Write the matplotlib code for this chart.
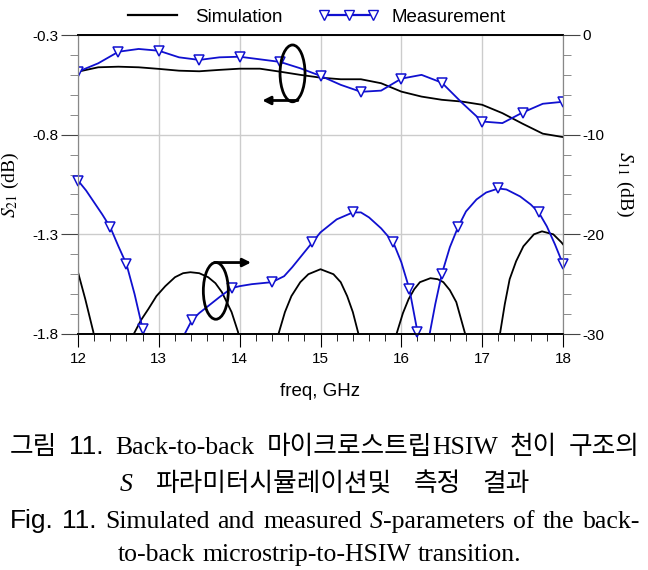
import matplotlib
matplotlib.use("Agg")
import matplotlib.pyplot as plt
import matplotlib.transforms as mtransforms
from matplotlib.patches import Ellipse
from matplotlib.lines import Line2D
import numpy as np

plt.rcParams['axes.unicode_minus'] = False
plt.rcParams['mathtext.fontset'] = 'stix'
plt.rcParams['font.family'] = ['Liberation Sans', 'DejaVu Sans']

# S21 (left axis, dB)
s21_f = [12.0, 12.25, 12.5, 12.75, 13.0, 13.25, 13.5, 13.75, 14.0, 14.25, 14.5, 14.75,
         15.0, 15.25, 15.5, 15.75, 16.0, 16.25, 16.5, 16.75, 17.0, 17.25, 17.5, 17.75, 18.0]
s21_sim = [-0.484, -0.462, -0.459, -0.462, -0.470, -0.479, -0.482, -0.475, -0.469, -0.469,
           -0.484, -0.500, -0.514, -0.522, -0.522, -0.542, -0.584, -0.609, -0.625, -0.634,
           -0.650, -0.692, -0.745, -0.795, -0.812]
s21_meas = [-0.484, -0.442, -0.384, -0.370, -0.379, -0.412, -0.425, -0.412, -0.409, -0.422,
            -0.435, -0.467, -0.505, -0.550, -0.585, -0.579, -0.519, -0.500, -0.539, -0.640,
            -0.734, -0.742, -0.689, -0.645, -0.635]

# S11 simulation (right axis, dB); values below -30 fall outside the plot
s11_sim_f = [12.0, 12.09, 12.19, 12.25, 12.65, 12.69, 12.78, 12.87, 12.97, 13.08, 13.2, 13.3,
             13.39, 13.5, 13.61, 13.7, 13.78, 13.9, 13.98, 14.05, 14.44, 14.48, 14.56, 14.64,
             14.75, 14.85, 15.0, 15.16, 15.25, 15.33, 15.4, 15.47, 15.52, 15.9, 15.94, 16.02,
             16.09, 16.16, 16.23, 16.36, 16.45, 16.52, 16.6, 16.68, 16.79, 16.85, 17.18, 17.22,
             17.28, 17.34, 17.42, 17.51, 17.64, 17.74, 17.88, 17.98, 18.0]
s11_sim = [-23.8, -26.5, -29.8, -34, -34, -30.0, -28.6, -27.5, -26.2, -25.2, -24.3, -23.9,
           -23.8, -23.9, -24.3, -24.9, -25.8, -27.8, -29.8, -34, -34, -30.0, -27.8, -26.2,
           -24.8, -24.0, -23.5, -24.0, -24.8, -26.2, -27.8, -30.0, -34, -34, -30.0, -27.9,
           -26.5, -25.5, -24.8, -24.4, -24.5, -24.8, -25.6, -26.8, -30.0, -34, -34, -30.0,
           -27.0, -24.5, -22.7, -21.2, -20.0, -19.7, -20.0, -20.8, -21.0]

# S11 measurement
s11_meas_f = [12.0, 12.1, 12.2, 12.3, 12.4, 12.5, 12.6, 12.7, 12.8, 12.9, 13.25, 13.3, 13.41,
              13.5, 13.61, 13.75, 13.9, 14.0, 14.15, 14.4, 14.55, 14.65, 14.75, 14.9, 15.0,
              15.2, 15.4, 15.5, 15.6, 15.75, 15.9, 16.0, 16.1, 16.2, 16.25, 16.33, 16.35,
              16.42, 16.5, 16.6, 16.7, 16.8, 16.93, 17.05, 17.2, 17.3, 17.47, 17.6, 17.7,
              17.8, 17.9, 18.0]
s11_meas = [-14.6, -15.6, -16.8, -18.0, -19.3, -21.2, -23.0, -26.0, -29.5, -34, -34, -30.3,
            -28.6, -27.9, -27.2, -26.3, -25.4, -25.2, -25.0, -24.8, -24.2, -23.3, -22.3, -20.8,
            -19.8, -18.5, -17.8, -17.8, -18.3, -19.4, -20.8, -22.8, -25.5, -29.8, -34, -34,
            -30.0, -27.0, -24.0, -21.3, -19.3, -17.7, -16.5, -15.8, -15.4, -15.5, -16.2, -17.0,
            -17.8, -19.2, -21.0, -23.0]
s11_mk_f = [12.0, 12.4, 12.6, 12.8, 13.41, 13.9, 14.4, 14.9, 15.4, 15.9, 16.1, 16.2, 16.5,
            16.7, 17.2, 17.7, 18.0]
s11_mk = [-14.6, -19.3, -23.0, -29.5, -28.6, -25.4, -24.8, -20.8, -17.8, -20.8, -25.5, -29.8,
          -24.0, -19.3, -15.4, -17.8, -23.0]

blue = '#1010d0'
W, H = 648, 570
fig = plt.figure(figsize=(W / 100, H / 100), dpi=100)
ax = fig.add_axes([78 / W, (H - 334) / H, (563 - 78) / W, (334 - 35) / H])
ax2 = ax.twinx()

ax.plot(s21_f, s21_sim, color='black', lw=1.3)
ax.plot(s21_f, s21_meas, color=blue, lw=1.3, marker='v', markevery=2, ms=7,
        mfc='white', mec=blue, mew=1.1)
ax2.plot(s11_sim_f, s11_sim, color='black', lw=1.3)
ax2.plot(s11_meas_f, s11_meas, color=blue, lw=1.3)
ax2.plot(s11_mk_f, s11_mk, ls='none', marker='v', ms=7, mfc='white', mec=blue, mew=1.1,
         clip_on=False)

ax.set_xlim(12, 18)
ax.set_ylim(-1.8, -0.3)
ax2.set_ylim(-30, 0)
ax.set_xticks(range(12, 19))
ax.set_xticks(np.arange(12, 18.01, 0.2), minor=True)
ax.set_yticks([-1.8, -1.3, -0.8, -0.3])
ax.set_yticks(np.arange(-1.8, -0.29, 0.1), minor=True)
ax2.set_yticks([-30, -20, -10, 0])
ax2.set_yticks(np.arange(-30, 0.1, 2), minor=True)

ax.grid(which='major', color='#cccccc', lw=1)
ax.set_axisbelow(True)

ax.tick_params(axis='x', which='major', length=9, color='black', labelsize=11, pad=4)
ax.tick_params(axis='x', which='minor', length=5, color='black')
ax.tick_params(axis='y', which='major', length=12, color='#444444', labelsize=11, pad=2)
ax.tick_params(axis='y', which='minor', length=6, color='#777777')
ax2.tick_params(axis='y', which='major', length=12, color='#444444', labelsize=11, pad=2)
ax2.tick_params(axis='y', which='minor', length=6, color='#777777')

for a in (ax, ax2):
    a.spines['top'].set_color('black')
    a.spines['bottom'].set_color('black')
    a.spines['top'].set_linewidth(1.2)
    a.spines['bottom'].set_linewidth(1.2)
    a.spines['left'].set_color('#888888')
    a.spines['right'].set_color('#888888')

ax.set_xlabel('freq, GHz', fontsize=13.5, labelpad=12)
ax.set_ylabel('$S_{21}$ (dB)', family='Liberation Serif', fontsize=14, labelpad=8)
ax2.set_ylabel('$S_{11}$ (dB)', family='Liberation Serif', fontsize=14, rotation=270,
               labelpad=22)

# ellipses with arrows pointing to the axis of each curve group
ax2.add_patch(Ellipse((14.654, -0.4925), 0.309, 0.285, fill=False, lw=2, ec='black',
                      transform=ax.transData, zorder=5))
ax2.annotate('', xy=(14.28, -0.6285), xytext=(14.72, -0.6285), xycoords=ax.transData,
             arrowprops=dict(arrowstyle='-|>', lw=2, color='black', mutation_scale=12,
                             shrinkA=0, shrinkB=0), zorder=5)
ax2.add_patch(Ellipse((13.705, -1.5835), 0.309, 0.285, fill=False, lw=2, ec='black',
                      transform=ax.transData, zorder=5))
ax2.annotate('', xy=(14.14, -1.4415), xytext=(13.69, -1.4415), xycoords=ax.transData,
             arrowprops=dict(arrowstyle='-|>', lw=2, color='black', mutation_scale=12,
                             shrinkA=0, shrinkB=0), zorder=5)

handles = [Line2D([], [], color='black', lw=1.6),
           Line2D([], [], color=blue, lw=1.6, marker='v', ms=7, mfc='white', mec=blue)]
fig.legend(handles, ['Simulation', 'Measurement'], loc='center', bbox_to_anchor=(0.485, 0.970),
           ncol=2, frameon=False, fontsize=13.5, handlelength=3.2, handletextpad=0.7,
           columnspacing=1.9, numpoints=3)

# caption
KR = 'Noto Sans CJK KR'
sans = dict(family='Liberation Sans', size=19)
serif = dict(family='Liberation Serif', size=18.5)
serif_it = dict(family='Liberation Serif', size=18.5, style='italic')
kr = dict(family=KR, size=18.5)

renderer = fig.canvas.get_renderer()


def caption_line(words, baseline, x0, x1, min_gap=6):
    items = []
    for w in words:
        runs = []
        for s, p in w:
            t = fig.text(0, 0, s, transform=mtransforms.IdentityTransform(),
                         ha='left', va='baseline', **p)
            runs.append((t, t.get_window_extent(renderer).width))
        items.append(runs)
    total = sum(wd for r in items for _, wd in r)
    gap = max(min_gap, (x1 - x0 - total) / (len(items) - 1))
    x = x0
    for runs in items:
        for t, wd in runs:
            t.set_position((x, H - baseline))
            x += wd
        x += gap


caption_line([[('그림', kr)], [('11.', sans)], [('Back-to-back', serif)],
              [('마이크로스트립', kr), ('HSIW', serif)], [('천이', kr)], [('구조의', kr)]],
             454, 10, 640)
caption_line([[('S', serif_it)], [('파라미터시뮬레이션및', kr)], [('측정', kr)], [('결과', kr)]],
             491, 120, 530)
caption_line([[('Fig.', sans)], [('11.', sans)], [('Simulated', serif)], [('and', serif)],
              [('measured', serif)], [('S', serif_it), ('-parameters', serif)],
              [('of', serif)], [('the', serif)], [('back-', serif)]],
             528, 10, 640)
caption_line([[('to-back', serif)], [('microstrip-to-HSIW', serif)], [('transition.', serif)]],
             561, 118, 493, min_gap=7)

fig.savefig('out.png', dpi=100)
